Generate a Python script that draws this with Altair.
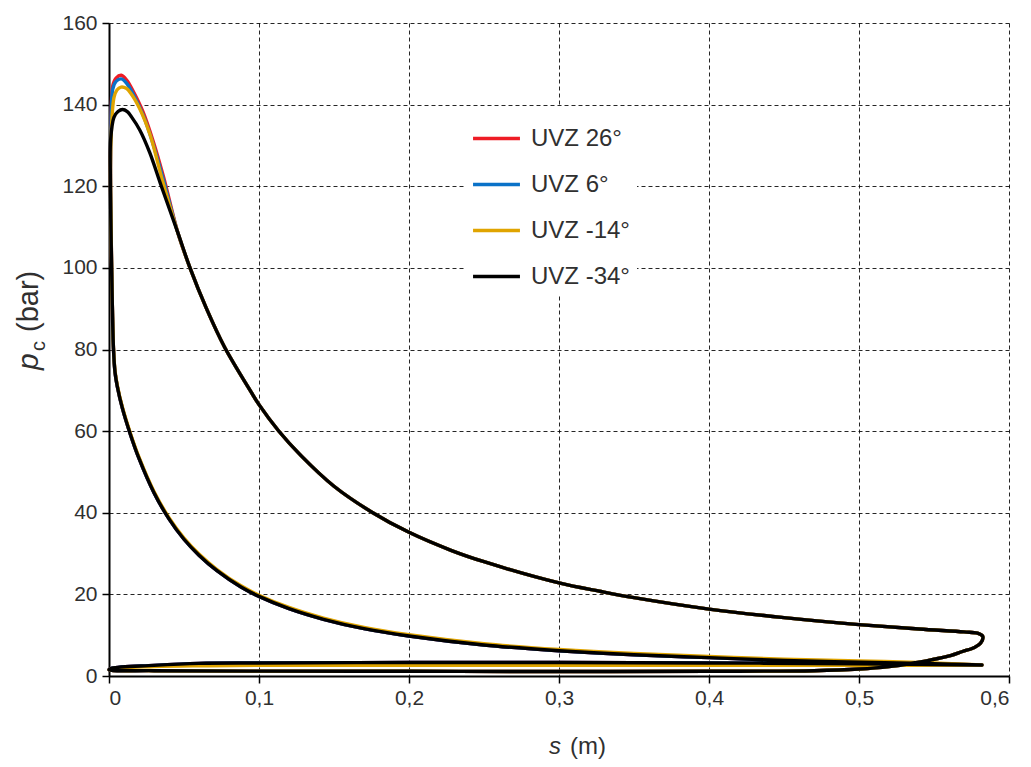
import altair as alt
import pandas as pd

# ---------------- data ----------------
SERIES = ["UVZ 26°", "UVZ 6°", "UVZ -14°", "UVZ -34°"]
COLORS = ["#ee1c25", "#0a72c8", "#e0a400", "#000000"]

# compression stroke (BDC -> TDC), common to the curves
COMP_S = [0.582, 0.55, 0.5, 0.45, 0.4, 0.35, 0.3, 0.25, 0.2, 0.17, 0.143, 0.12, 0.1,
          0.088, 0.072, 0.06, 0.05, 0.04, 0.03, 0.02, 0.014, 0.009, 0.0055,
          0.004, 0.003, 0.0021]
COMP_P = [2.7, 3.0, 3.4, 3.8, 4.5, 5.2, 6.2, 7.6, 9.8, 11.6, 13.9, 16.5, 19.5,
          21.8, 25.8, 29.6, 33.5, 38.5, 44.9, 53.3, 59.5, 65.5, 71.0,
          74.5, 80.0, 93.0]
COMP_P_YELLOW = [2.7, 3.2, 3.7, 4.1, 4.8, 5.5, 6.5, 7.9, 10.1, 11.9, 14.2, 16.8, 19.8,
                 22.1, 26.1, 29.9, 33.8, 38.8, 45.2, 53.6, 59.8, 65.8, 71.3,
                 74.8, 80.3, 93.3]

# combustion hump near TDC (per series)
PEAK_S_RED = [0.0012, 0.001, 0.0013, 0.0025, 0.0047, 0.0082, 0.0120, 0.0165, 0.0227, 0.0293, 0.0362]
PEAK_P_RED = [115.0, 125.0, 133.0, 144.6, 146.5, 147.2, 145.9, 143.0, 138.2, 131.2, 122.5]
PEAK_S_BLUE = [0.0012, 0.001, 0.0013, 0.0025, 0.0047, 0.0082, 0.0120, 0.0165, 0.0227, 0.0290, 0.0358]
PEAK_P_BLUE = [115.0, 125.0, 132.5, 143.8, 145.7, 146.3, 145.1, 142.3, 137.5, 130.8, 122.2]
PEAK_S_YELLOW = [0.0012, 0.001, 0.0013, 0.0033, 0.0053, 0.0080, 0.0115, 0.0145, 0.0205, 0.0275, 0.0352]
PEAK_P_YELLOW = [115.0, 125.0, 131.0, 141.7, 143.6, 144.3, 144.0, 142.8, 139.0, 132.5, 122.0]
PEAK_S_BLACK = [0.0012, 0.0009, 0.0011, 0.0033, 0.0060, 0.0090, 0.0122, 0.0150, 0.0205, 0.0271, 0.0349]
PEAK_P_BLACK = [112.0, 122.0, 131.5, 136.9, 138.3, 138.8, 138.3, 137.0, 133.8, 128.3, 120.0]

# expansion stroke (TDC -> BDC), common
EXP_S = [0.046, 0.054, 0.065, 0.077, 0.0947, 0.1, 0.113, 0.128, 0.15, 0.175, 0.2,
         0.228, 0.25, 0.3, 0.328, 0.35, 0.4, 0.45, 0.5, 0.54, 0.57, 0.579, 0.5825]
EXP_P = [108.5, 100.0, 90.0, 80.6, 69.6, 66.5, 60.1, 54.0, 46.5, 40.2, 35.2,
         30.8, 28.0, 22.8, 20.7, 19.2, 16.4, 14.3, 12.6, 11.5, 10.8, 10.5, 9.7]

# blow-down, exhaust and intake strokes, common
GAS_S = [0.581, 0.577, 0.569, 0.561, 0.55, 0.539, 0.52, 0.5, 0.47, 0.4, 0.3, 0.2, 0.1,
         0.03, 0.0, 0.002, 0.03, 0.06, 0.1, 0.2, 0.3, 0.4, 0.5, 0.582]
GAS_P = [8.0, 7.0, 6.0, 5.0, 4.1, 3.3, 2.3, 1.7, 1.3, 1.15, 1.1, 1.15, 1.2,
         1.3, 1.5, 1.9, 2.6, 3.1, 3.2, 3.3, 3.3, 3.2, 3.0, 2.7]
GAS_P_YELLOW = [8.0, 7.0, 6.0, 5.0, 4.1, 3.3, 2.3, 1.7, 1.3, 1.15, 1.1, 1.15, 1.2,
                1.3, 1.5, 1.8, 2.3, 2.5, 2.6, 2.6, 2.6, 2.6, 2.6, 2.7]

PEAKS = {
    SERIES[0]: (PEAK_S_RED, PEAK_P_RED, COMP_P, GAS_P),
    SERIES[1]: (PEAK_S_BLUE, PEAK_P_BLUE, COMP_P, GAS_P),
    SERIES[2]: (PEAK_S_YELLOW, PEAK_P_YELLOW, COMP_P_YELLOW, GAS_P_YELLOW),
    SERIES[3]: (PEAK_S_BLACK, PEAK_P_BLACK, COMP_P, GAS_P),
}

rows = []
for name in SERIES:
    ps, pp, cp, gp = PEAKS[name]
    s_all = COMP_S + ps + EXP_S + GAS_S
    p_all = cp + pp + EXP_P + gp
    for i, (s, p) in enumerate(zip(s_all, p_all)):
        rows.append({"series": name, "s": s, "p": p, "i": i})
df = pd.DataFrame(rows)

FONT = "Liberation Sans"
TXT = "#303030"

lines = alt.Chart(df).mark_line(strokeWidth=3.4, strokeJoin="round", strokeCap="round",
                                interpolate="catmull-rom").encode(
    x=alt.X("s:Q", scale=alt.Scale(domain=[0, 0.6], nice=False, zero=False),
            axis=alt.Axis(values=[0, 0.1, 0.2, 0.3, 0.4, 0.5, 0.6], title=None,
                          labelExpr="datum.value == 0 ? '0' : replace(format(datum.value, '.1f'), '.', ',')")),
    y=alt.Y("p:Q", scale=alt.Scale(domain=[0, 160], nice=False),
            axis=alt.Axis(values=[0, 20, 40, 60, 80, 100, 120, 140, 160], title=None)),
    color=alt.Color("series:N", sort=SERIES,
                    scale=alt.Scale(domain=SERIES, range=COLORS),
                    legend=alt.Legend(title=None, orient="none", legendX=355, legendY=83,
                                      symbolType="stroke", symbolSize=2200, symbolStrokeWidth=3.4,
                                      labelFontSize=24, labelFont=FONT, labelColor=TXT,
                                      labelOffset=9, rowPadding=8, padding=7,
                                      fillColor="white")),
    detail="series:N",
    order=alt.Order("i:Q"),
)

def label(txt, x, y, size, italic=False, angle=0):
    kw = dict(text=txt, fontSize=size, font=FONT, color=TXT, align="left", baseline="alphabetic")
    if italic:
        kw["fontStyle"] = "italic"
    if angle:
        kw["angle"] = angle
    return alt.Chart(pd.DataFrame({"k": [0]})).mark_text(**kw).encode(
        x=alt.value(x), y=alt.value(y))

titles = [
    label("s", 440, 731, 24, italic=True),
    label("(m)", 461, 731, 24),
    label("p", -71, 347, 30, italic=True, angle=270),
    label("c", -64, 328, 20, angle=270),
    label("(bar)", -71, 309, 29, angle=270),
]

chart = alt.layer(lines, *titles).properties(
    width=900, height=653,
    autosize=alt.AutoSizeParams(type="none"),
    padding={"left": 101, "top": 15, "right": 14, "bottom": 83},
).configure_view(stroke=None).configure_axis(
    labelFont=FONT, labelFontSize=21, labelColor=TXT,
    domainColor="#000000", domainWidth=2, tickColor="#000000", tickWidth=1.5, tickSize=7,
    grid=True, gridColor="#000000", gridDash=[4, 3], gridWidth=1, gridOpacity=0.85,
).configure_axisX(labelPadding=4).configure_axisY(labelPadding=5)

chart.save("out.html", embed_options={"renderer": "svg", "actions": False})
